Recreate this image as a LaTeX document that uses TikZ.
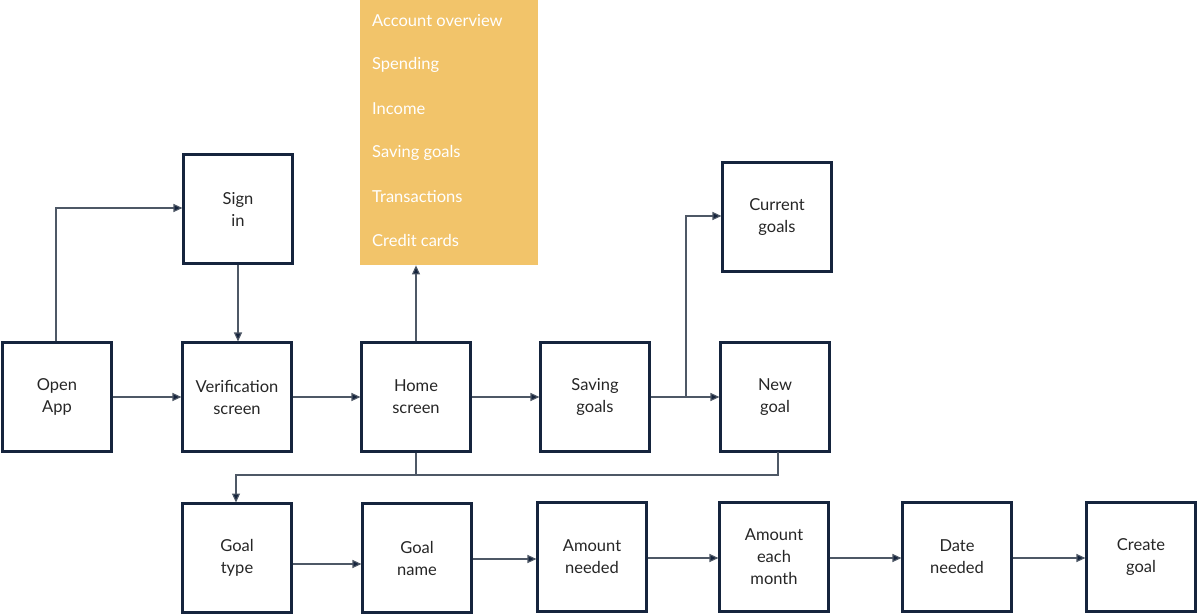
\documentclass[tikz,border=0pt]{standalone}
\usepackage{fontspec}
\setmainfont{Lato}
\usetikzlibrary{arrows.meta}
\definecolor{boxline}{HTML}{15243D}
\definecolor{conn}{HTML}{4E5866}
\definecolor{menu}{HTML}{F2C46A}
\begin{document}
\begin{tikzpicture}[x=1pt,y=-1pt,
  box/.style={draw=boxline,line width=2.1pt,minimum width=109pt,minimum height=109pt,inner sep=0pt,align=center,font=\fontsize{16.5}{22}\selectfont,text=black!85},
  conn/.style={draw=conn,line width=1.1pt,-{Triangle[length=9pt,width=8pt,fill=boxline]}},
  line/.style={draw=conn,line width=1.1pt},
  item/.style={anchor=west,text=white,font=\fontsize{16.5}{20}\selectfont,inner sep=0pt}]
\useasboundingbox (0,0) rectangle (1200,615);
% menu
\node[fill=menu,minimum width=178pt,minimum height=265pt,inner sep=0pt,anchor=north west] (menu) at (360,0) {};
\node[item] (m1) at (372,20.5) {Account overview};
\node[item] (m2) at (372,64.5) {Spending};
\node[item] (m3) at (372,108.5) {Income};
\node[item] (m4) at (372,152.5) {Saving goals};
\node[item] (m5) at (372,196.5) {Transactions};
\node[item] (m6) at (372,240.5) {Credit cards};
% boxes
\node[box] (sign) at (238,209) {Sign\\in};
\node[box] (open) at (57,397) {Open\\App};
\node[box] (verif) at (237,397) {Verification\\screen};
\node[box] (home) at (416,397) {Home\\screen};
\node[box] (saving) at (595,397) {Saving\\goals};
\node[box] (newg) at (775,397) {New\\goal};
\node[box] (curr) at (777,217) {Current\\goals};
\node[box] (gtype) at (237,558) {Goal\\type};
\node[box] (gname) at (417,558) {Goal\\name};
\node[box] (amt) at (592,557) {Amount\\needed};
\node[box] (each) at (774,557) {Amount\\each\\month};
\node[box] (date) at (957,557) {Date\\needed};
\node[box] (create) at (1141,557) {Create\\goal};
% connectors
\coordinate (c1) at (56,208);
\draw[conn] (open.north -| c1) -- (c1) -- (c1 -| sign.west);
\draw[conn] (sign.south) -- (verif.north -| sign.south);
\draw[conn] (open.east) -- (verif.west);
\draw[conn] (verif.east) -- (home.west);
\draw[conn] (home.north) -- (menu.south -| home.north);
\draw[conn] (home.east) -- (saving.west);
\draw[conn] (saving.east) -- (newg.west);
\coordinate (b1) at (686,397);
\draw[conn] (b1) -- (686,216) -- (curr.west |- 0,216);
\coordinate (j1) at (416,475);
\draw[conn] (home.south) -- (j1) -- (236,475) -- (236,502.5);
\draw[line] (778,452) -- (778,475) -- (j1);
\draw[conn] (gtype.east |- 0,564) -- (gname.west |- 0,564);
\draw[conn] (gname.east |- 0,559) -- (amt.west |- 0,559);
\draw[conn] (amt.east |- 0,558) -- (each.west |- 0,558);
\draw[conn] (each.east |- 0,558) -- (date.west |- 0,558);
\draw[conn] (date.east |- 0,558) -- (create.west |- 0,558);
\end{tikzpicture}
\end{document}
